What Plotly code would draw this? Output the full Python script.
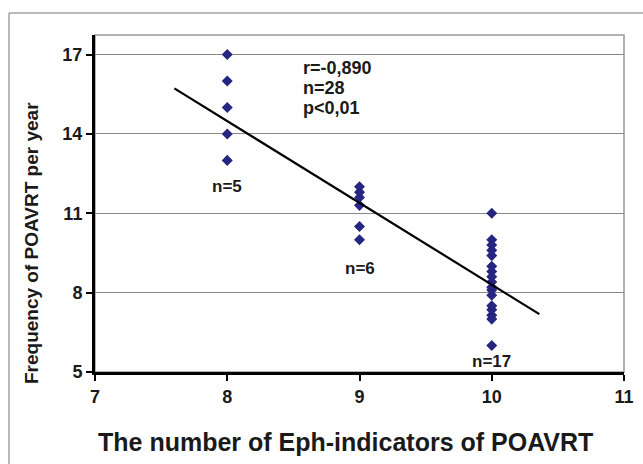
import plotly.graph_objects as go

# Data
x_vals = [8]*5 + [9]*6 + [10]*17
y_group8 = [13, 14, 15, 16, 17]
y_group9 = [10, 10.5, 11.3, 11.6, 11.8, 12]
y_group10 = [11, 10, 9.8, 9.6, 9.4, 9, 8.8, 8.6, 8.4, 8.2, 8.1, 7.9, 7.5, 7.35, 7.15, 7.0, 6.0]
y_vals = y_group8 + y_group9 + y_group10

# regression line as drawn (end points)
trend_x = [7.6, 10.36]
trend_y = [15.72, 7.19]

group_x = [8, 9, 10]
group_labels = ["n=5", "n=6", "n=17"]
group_label_y = [12.0, 8.93, 5.38]

stats_lines = ["r=-0,890", "n=28", "p<0,01"]
stats_y = [16.49, 15.73, 14.98]
stats_x = 8.557

x_ticks = [7, 8, 9, 10, 11]
y_ticks = [5, 8, 11, 14, 17]

FONT = "Liberation Sans, Arial, sans-serif"
NAVY = "#262682"
TXT = "#1a1a1a"

fig = go.Figure()
fig.add_trace(go.Scatter(
    x=x_vals, y=y_vals, mode="markers",
    marker=dict(symbol="diamond", size=8.5, color=NAVY),
    showlegend=False, hoverinfo="skip"))
fig.add_trace(go.Scatter(
    x=trend_x, y=trend_y, mode="lines", line=dict(color="black", width=2.2),
    showlegend=False, hoverinfo="skip"))

for gx, gl, gy in zip(group_x, group_labels, group_label_y):
    fig.add_annotation(x=gx, y=gy, text="<b>%s</b>" % gl, showarrow=False,
                       font=dict(family=FONT, size=17, color=TXT))

for line, sy in zip(stats_lines, stats_y):
    fig.add_annotation(x=stats_x, y=sy, xanchor="left", yanchor="middle",
                       text="<b>" + line.replace("<", "&lt;") + "</b>", showarrow=False,
                       font=dict(family=FONT, size=18, color=TXT))

# axis titles
fig.add_annotation(xref="paper", yref="paper", x=(345.5 - 95) / 529, y=(372 - 442) / 337,
                   yanchor="middle", xanchor="center",
                   text="<b>The number of Eph-indicators of POAVRT</b>", showarrow=False,
                   font=dict(family=FONT, size=25, color=TXT))
fig.add_annotation(xref="paper", yref="paper", x=(31 - 95) / 529, y=(372 - 243) / 337,
                   xanchor="center", yanchor="middle", textangle=-90,
                   text="<b>Frequency of POAVRT per year</b>", showarrow=False,
                   font=dict(family=FONT, size=19, color=TXT))

# outer frame
fig.add_shape(type="rect", xref="paper", yref="paper",
              x0=(9 - 95) / 529, x1=1.2, y0=-0.5, y1=(372 - 13) / 337,
              line=dict(color="#777", width=1), layer="below")
# plot border (top/right)
fig.add_shape(type="rect", xref="paper", yref="paper", x0=0, x1=1, y0=0, y1=1,
              line=dict(color="#999", width=1.5), layer="below")

tick_font = dict(family=FONT, size=18, color=TXT)
fig.update_xaxes(range=[7, 11], tickvals=x_ticks, ticktext=["<b>%d</b>" % t for t in x_ticks],
                 showgrid=False, zeroline=False,
                 showline=True, linecolor="black", linewidth=3,
                 ticks="outside", ticklen=6, tickwidth=2, tickcolor="black",
                 tickfont=tick_font)
fig.update_yaxes(range=[5, 17.74], tickvals=y_ticks, ticktext=["<b>%d</b>" % t for t in y_ticks],
                 showgrid=True, gridcolor="#888", gridwidth=1.2, zeroline=False,
                 showline=True, linecolor="black", linewidth=3,
                 ticks="outside", ticklen=6, tickwidth=2, tickcolor="black",
                 tickfont=tick_font)

fig.update_layout(width=643, height=464, margin=dict(l=95, r=19, t=35, b=92, autoexpand=False),
                  paper_bgcolor="white", plot_bgcolor="white")
fig.write_html("out.html", config={"displayModeBar": False},
               post_script="document.body.style.margin='0';")
